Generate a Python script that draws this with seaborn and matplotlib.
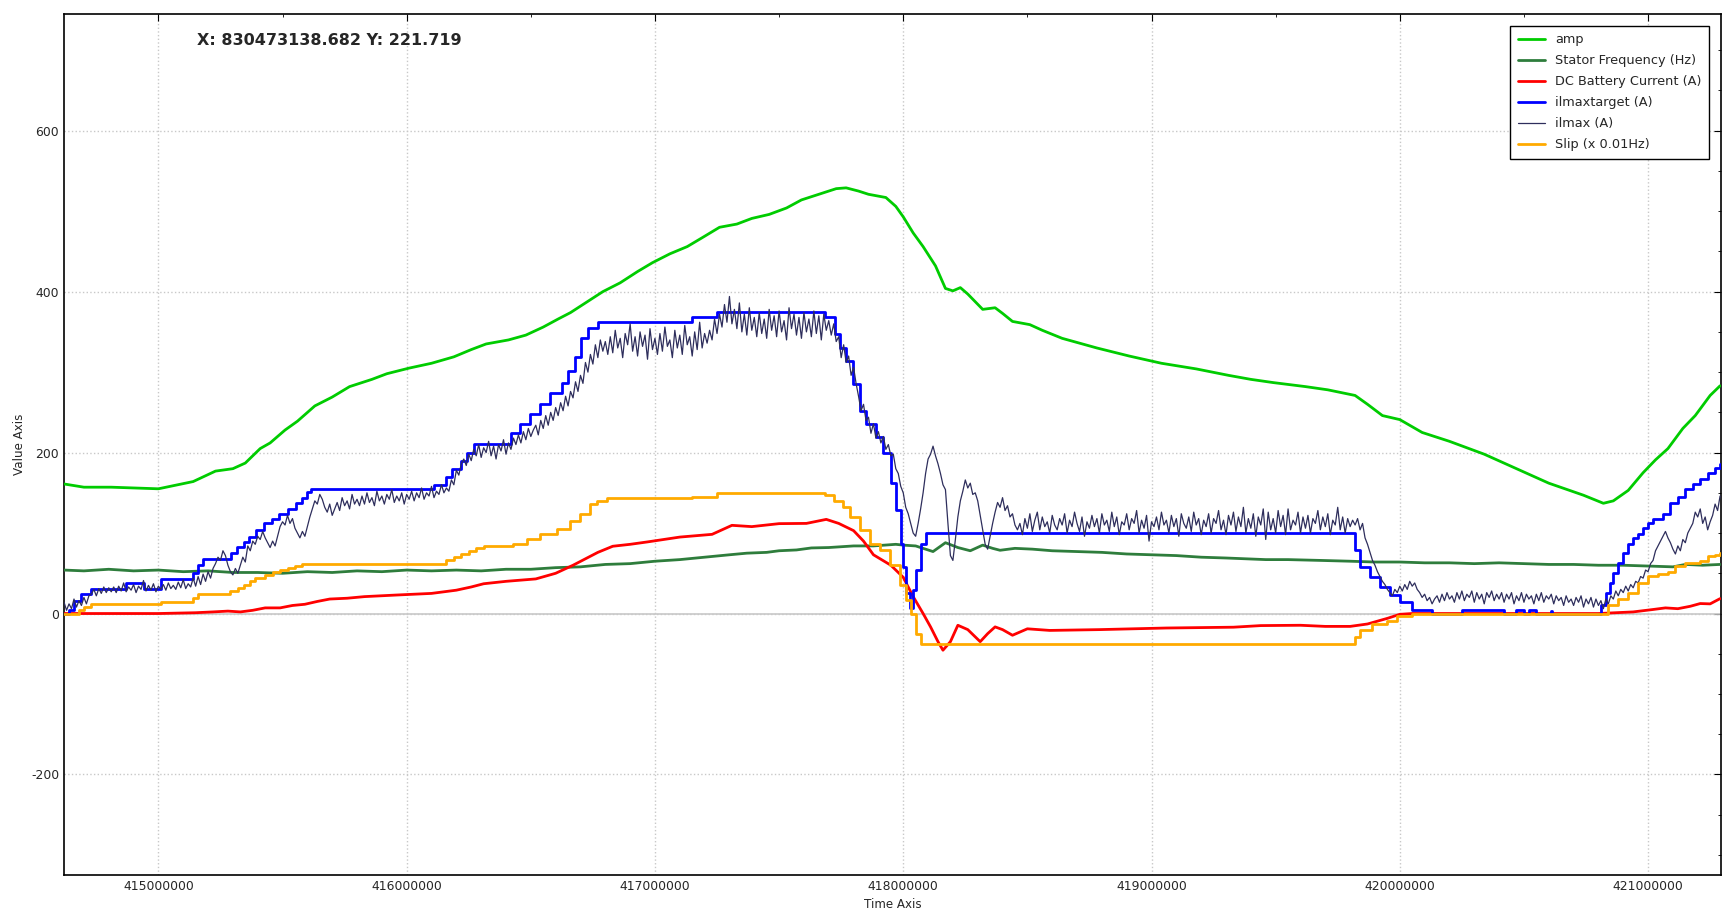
import numpy as np
import pandas as pd
import seaborn as sns
import matplotlib.pyplot as plt
from matplotlib.ticker import MultipleLocator, FormatStrFormatter

# time values below are in units of 1e6
amp_t = [414.62, 414.70, 414.81, 415.00, 415.14, 415.23, 415.30, 415.35, 415.41, 415.45,
         415.51, 415.56, 415.63, 415.70, 415.77, 415.86, 415.92, 416.01, 416.10, 416.19,
         416.26, 416.32, 416.41, 416.48, 416.55, 416.61, 416.66, 416.73, 416.79, 416.86,
         416.93, 416.99, 417.06, 417.13, 417.19, 417.26, 417.33, 417.39, 417.46, 417.53,
         417.59, 417.66, 417.73, 417.77, 417.82, 417.86, 417.93, 417.97, 418.00, 418.04,
         418.08, 418.13, 418.17, 418.20, 418.23, 418.26, 418.32, 418.37, 418.40, 418.44,
         418.51, 418.56, 418.64, 418.78, 418.91, 419.04, 419.18, 419.31, 419.40, 419.49,
         419.62, 419.71, 419.82, 419.87, 419.93, 420.00, 420.09, 420.20, 420.34, 420.47,
         420.60, 420.74, 420.82, 420.86, 420.92, 420.98, 421.03, 421.08, 421.14, 421.19,
         421.25, 421.29]
amp_v = [161, 157, 157, 155, 164, 177, 180, 187, 205, 212,
         228, 239, 258, 269, 282, 291, 298, 305, 311, 319,
         328, 335, 340, 346, 356, 366, 374, 388, 400, 411,
         425, 436, 447, 456, 467, 480, 484, 491, 496, 504,
         514, 521, 528, 529, 525, 521, 517, 506, 493, 473,
         456, 432, 404, 401, 405, 397, 378, 380, 373, 363,
         359, 352, 342, 330, 320, 311, 304, 296, 291, 287,
         282, 278, 271, 260, 246, 241, 225, 214, 198, 180,
         162, 147, 137, 140, 153, 175, 191, 205, 230, 246,
         271, 283]

stator_t = [414.62, 414.70, 414.80, 414.90, 415.00, 415.10, 415.20, 415.30, 415.40, 415.50,
            415.60, 415.70, 415.80, 415.90, 416.00, 416.10, 416.20, 416.30, 416.40, 416.50,
            416.60, 416.70, 416.80, 416.90, 417.00, 417.10, 417.20, 417.30, 417.37, 417.45,
            417.50, 417.57, 417.63, 417.70, 417.80, 417.88, 417.97, 418.00, 418.05, 418.09,
            418.12, 418.17, 418.22, 418.27, 418.32, 418.36, 418.39, 418.45, 418.52, 418.60,
            418.70, 418.80, 418.90, 419.00, 419.10, 419.20, 419.30, 419.46, 419.55, 419.68,
            419.80, 419.90, 420.00, 420.10, 420.20, 420.30, 420.40, 420.50, 420.60, 420.70,
            420.80, 420.90, 421.00, 421.10, 421.15, 421.22, 421.29]
stator_v = [54, 53, 55, 53, 54, 52, 53, 51, 51, 50,
            52, 51, 53, 52, 54, 53, 54, 53, 55, 55,
            57, 58, 61, 62, 65, 67, 70, 73, 75, 76,
            78, 79, 81.5, 82, 84, 84, 86, 85, 84, 80,
            77, 88, 82, 78, 85, 81, 78.6, 81, 80, 78,
            77, 76, 74, 73, 72, 70, 69, 67, 67, 66,
            65, 64, 64, 63, 63, 62, 63, 62, 61, 61,
            60, 60, 59, 58, 61, 60, 61]

dc_t = [414.62, 415.00, 415.15, 415.22, 415.28, 415.33, 415.38, 415.43, 415.49, 415.54,
        415.59, 415.64, 415.69, 415.76, 415.83, 415.96, 416.10, 416.20, 416.26, 416.31,
        416.40, 416.52, 416.60, 416.67, 416.72, 416.77, 416.83, 416.90, 416.97, 417.10,
        417.23, 417.27, 417.31, 417.39, 417.50, 417.61, 417.69, 417.74, 417.80, 417.84,
        417.88, 417.95, 418.00, 418.04, 418.08, 418.11, 418.14, 418.16, 418.19, 418.22,
        418.26, 418.31, 418.34, 418.37, 418.40, 418.44, 418.50, 418.59, 418.79, 419.06,
        419.33, 419.44, 419.60, 419.70, 419.80, 419.87, 419.95, 420.00, 420.05, 420.80,
        420.94, 421.02, 421.07, 421.12, 421.17, 421.21, 421.25, 421.29]
dc_v = [0, 0, 1, 2, 3, 2, 4, 7, 7, 10,
        11.5, 15, 18, 19, 21, 23, 25, 29, 33, 37,
        40, 43, 50, 60, 68, 76, 83.6, 86, 89, 95,
        98.4, 104, 109.6, 108, 111.7, 112, 117, 112, 103, 90,
        73, 60, 45, 21, 0, -16.6, -35, -45.6, -35, -14.6,
        -20, -35, -25, -16.6, -20, -27, -19, -21, -20, -18,
        -17, -15, -14.6, -16, -16, -13, -6, -1, 0, 0,
        2, 5, 7, 6, 9, 12.4, 12, 18.5]

target_t = [414.62, 414.64, 414.66, 414.69, 414.73, 414.87, 414.94, 415.01, 415.14, 415.16,
            415.18, 415.291, 415.318, 415.345, 415.365, 415.392, 415.426, 415.459, 415.486, 415.52,
            415.553, 415.58, 415.60, 415.613, 416.11, 416.157, 416.184, 416.217, 416.244, 416.27,
            416.42, 416.456, 416.497, 416.537, 416.577, 416.624, 416.65, 416.677, 416.704, 416.731,
            416.77, 417.15, 417.25, 417.684, 417.724, 417.744, 417.771, 417.798, 417.825, 417.852,
            417.892, 417.92, 417.95, 417.97, 417.99, 418.00, 418.01, 418.026, 418.04, 418.05,
            418.07, 418.09, 419.80, 419.82, 419.84, 419.88, 419.92, 419.96, 420.00, 420.05,
            420.13, 420.25, 420.42, 420.47, 420.50, 420.52, 420.55, 420.61, 420.615, 420.80,
            420.81, 420.83, 420.845, 420.86, 420.88, 420.90, 420.92, 420.94, 420.96, 420.98,
            421.00, 421.02, 421.06, 421.09, 421.12, 421.15, 421.18, 421.21, 421.24, 421.27,
            421.29]
target_v = [0, 4, 16, 24, 30, 38, 31, 43, 50, 60,
            68, 75, 83, 89, 95, 104, 112, 118, 124, 130,
            137, 144, 151, 155, 160, 170, 180, 190, 200, 211,
            224, 236, 248, 261, 274, 286, 302, 319, 343, 355,
            362, 369, 375, 369, 347, 330, 314, 285, 252, 236,
            219, 199, 162, 129, 87, 58, 25, 6.5, 29, 54,
            87, 100, 100, 79, 58, 46, 33, 22.5, 14, 4,
            0, 4.6, 0, 4, 0, 4, 0, 3, 0, 0,
            10, 25, 38, 50, 63, 75, 87, 94, 99, 106,
            112, 118, 124, 137, 145, 155, 161, 167, 175, 181,
            186]

slip_t = [414.62, 414.68, 414.70, 414.73, 415.01, 415.14, 415.16, 415.29, 415.32, 415.345,
          415.37, 415.39, 415.43, 415.46, 415.49, 415.52, 415.55, 415.58, 415.61, 416.16,
          416.19, 416.22, 416.25, 416.28, 416.31, 416.43, 416.483, 416.537, 416.604, 416.657,
          416.698, 416.738, 416.765, 416.805, 417.15, 417.25, 417.684, 417.72, 417.758, 417.785,
          417.825, 417.865, 417.905, 417.946, 417.986, 418.01, 418.03, 418.05, 418.07, 419.80,
          419.82, 419.84, 419.89, 419.95, 419.99, 420.05, 420.81, 420.84, 420.88, 420.92,
          420.96, 421.00, 421.04, 421.08, 421.11, 421.15, 421.21, 421.24, 421.27, 421.29]
slip_v = [0, 4, 8, 12, 14.5, 19, 24, 28, 32, 36,
          40, 44, 48, 51, 54, 57, 59, 61, 62, 66,
          70, 74, 78, 82, 84, 87, 92, 98.5, 105.5, 115,
          124, 136.5, 140, 143, 145, 150, 147, 140, 133, 120.5,
          104, 87, 79, 60, 36, 17, 0, -25, -38, -38,
          -29, -21, -13, -9, -3.5, 0, 0, 10, 18, 26,
          38, 47, 49, 51, 59, 63, 65, 71, 73, 75]

# ilmax sampled every 0.01e6 starting at 414.62e6 (one row = 0.2e6)
ilmax_start = 414.62
ilmax_step = 0.01
ilmax_v = [
    14, 4, 12, 6, 18, 8, 16, 10, 20, 12, 22, 24, 30, 22, 31, 25, 33, 26, 32, 27,
    33, 26, 34, 28, 38, 27, 33, 29, 36, 26, 34, 30, 41, 28, 35, 29, 37, 27, 34, 30,
    36, 29, 38, 31, 35, 30, 39, 32, 42, 31, 37, 33, 44, 34, 46, 36, 49, 40, 52, 44,
    56, 62, 70, 66, 78, 72, 60, 52, 48, 56, 50, 60, 70, 64, 84, 78, 90, 86, 96, 92,
    102, 94, 88, 82, 90, 84, 96, 108, 114, 110, 122, 112, 118, 106, 100, 94, 102, 96, 108, 120,
    130, 140, 136, 148, 142, 132, 126, 136, 122, 130, 138, 128, 144, 134, 140, 130, 148, 136, 142, 134,
    146, 136, 150, 138, 144, 134, 152, 140, 146, 136, 148, 142, 154, 138, 146, 140, 150, 136, 148, 142,
    152, 140, 150, 144, 156, 142, 150, 146, 158, 144, 152, 148, 160, 150, 156, 152, 166, 160, 178, 172,
    186, 192, 184, 198, 190, 204, 196, 210, 194, 206, 200, 214, 196, 208, 192, 210, 202, 216, 198, 212,
    204, 218, 210, 222, 212, 226, 216, 230, 220, 228, 234, 222, 240, 230, 246, 234, 250, 240, 256, 246,
    262, 252, 270, 258, 276, 268, 288, 276, 296, 286, 312, 300, 322, 310, 334, 318, 340, 326, 338, 322,
    344, 324, 352, 330, 342, 318, 348, 334, 360, 326, 344, 320, 350, 332, 346, 316, 354, 328, 342, 322,
    348, 326, 356, 332, 340, 318, 352, 330, 346, 322, 358, 334, 344, 320, 350, 328, 362, 330, 348, 336,
    352, 340, 366, 348, 372, 356, 384, 362, 394, 360, 378, 354, 386, 350, 372, 346, 380, 352, 368, 344,
    374, 348, 366, 342, 378, 352, 370, 344, 376, 350, 364, 340, 380, 354, 372, 346, 368, 342, 374, 350,
    366, 344, 376, 348, 370, 340, 372, 352, 364, 346, 360, 338, 344, 318, 334, 312, 320, 296, 306, 286,
    270, 252, 260, 240, 244, 224, 236, 218, 226, 212, 220, 204, 210, 196, 198, 180, 174, 158, 150, 132,
    124, 112, 100, 96, 112, 130, 150, 174, 192, 198, 208, 196, 186, 174, 160, 154, 112, 72, 66, 92,
    120, 140, 152, 166, 156, 162, 148, 150, 140, 122, 104, 86, 80, 96, 112, 126, 138, 132, 144, 128,
    134, 120, 124, 110, 104, 112, 98, 118, 106, 124, 102, 116, 126, 104, 120, 108, 114, 100, 122, 110,
    104, 118, 110, 124, 100, 116, 108, 126, 112, 102, 120, 96, 114, 106, 122, 108, 118, 100, 124, 110,
    116, 102, 126, 108, 120, 98, 114, 110, 124, 104, 118, 112, 128, 100, 116, 106, 122, 90, 114, 108,
    120, 104, 126, 110, 116, 100, 122, 108, 118, 96, 124, 112, 106, 120, 102, 126, 110, 118, 98, 116,
    108, 124, 100, 118, 112, 128, 104, 116, 98, 122, 110, 126, 102, 120, 108, 132, 100, 118, 106, 124,
    96, 120, 110, 130, 92, 126, 104, 118, 100, 128, 108, 122, 98, 130, 104, 116, 110, 126, 100, 120,
    106, 122, 100, 118, 112, 128, 104, 120, 108, 124, 98, 116, 110, 132, 104, 120, 100, 118, 108, 116,
    110, 118, 104, 112, 94, 86, 76, 66, 60, 52, 46, 40, 36, 30, 26, 22, 30, 26, 34, 28,
    36, 30, 40, 34, 38, 30, 26, 20, 24, 16, 20, 12, 18, 22, 14, 24, 16, 26, 18, 22,
    14, 26, 18, 28, 16, 24, 20, 28, 14, 26, 18, 24, 12, 26, 20, 28, 16, 24, 18, 26,
    14, 24, 18, 26, 12, 22, 16, 26, 14, 24, 18, 22, 12, 24, 16, 26, 14, 22, 18, 24,
    12, 22, 16, 20, 10, 22, 14, 18, 10, 20, 14, 22, 8, 18, 12, 20, 8, 18, 10, 16,
    6, 18, 12, 22, 18, 28, 22, 30, 26, 34, 28, 36, 32, 40, 38, 46, 44, 54, 52, 62,
    66, 78, 84, 90, 96, 102, 94, 88, 80, 74, 84, 78, 92, 88, 100, 106, 112, 126, 120, 130,
    112, 120, 104, 114, 122, 136, 128, 146,
]

x_ticks = [415000000, 416000000, 417000000, 418000000, 419000000, 420000000, 421000000]
y_ticks = [-200, 0, 200, 400, 600]
cursor_text = "X: 830473138.682 Y: 221.719"

M = 1e6
ilmax_t = ilmax_start + ilmax_step * np.arange(len(ilmax_v))

sns.set_style("white")
plt.rcParams["axes.unicode_minus"] = False
fig = plt.figure(figsize=(17.36, 9.18), dpi=100)
ax = fig.add_axes([0.0369, 0.0468, 0.9545, 0.9379])

ax.axhline(0, color="#c8c8c8", lw=1.2, zorder=1)

series = [
    ("amp", amp_t, amp_v, "#00cc00", 2.0, "default"),
    ("Stator Frequency (Hz)", stator_t, stator_v, "#2e7d3c", 2.0, "default"),
    ("DC Battery Current (A)", dc_t, dc_v, "#ff0000", 2.0, "default"),
    ("ilmaxtarget (A)", target_t, target_v, "#0000ff", 2.0, "steps-post"),
    ("ilmax (A)", list(ilmax_t), ilmax_v, "#2e2e5c", 0.9, "default"),
    ("Slip (x 0.01Hz)", slip_t, slip_v, "#ffaa00", 2.0, "steps-post"),
]
for name, t, v, col, lw, ds in series:
    df = pd.DataFrame({"t": np.array(t) * M, "v": v})
    sns.lineplot(data=df, x="t", y="v", ax=ax, color=col, lw=lw, label=name,
                 estimator=None, drawstyle=ds, zorder=3)

ax.set_xlim(414.62 * M, 421.294 * M)
ax.set_ylim(-325, 745)
ax.set_xticks(x_ticks)
ax.set_yticks(y_ticks)
ax.xaxis.set_major_formatter(FormatStrFormatter("%d"))
ax.xaxis.set_minor_locator(MultipleLocator(500000))
ax.yaxis.set_minor_locator(MultipleLocator(50))
ax.tick_params(which="both", direction="in", top=True, right=True, labelsize=8.9, color="black")
ax.tick_params(which="major", length=5)
ax.tick_params(which="minor", length=2.5)
ax.grid(True, which="major", color="#c8c8c8", linestyle=":", lw=1)
for s in ax.spines.values():
    s.set_color("black")
    s.set_linewidth(1.2)

ax.set_xlabel("Time Axis", fontsize=8.6)
ax.set_ylabel("Value Axis", fontsize=8.6)

ax.text(0.080, 0.969, cursor_text, transform=ax.transAxes, fontsize=11.5,
        fontweight="bold", va="center", ha="left")

leg = ax.legend(loc="upper right", fontsize=9.3, frameon=True, fancybox=False,
                edgecolor="black", framealpha=1, borderaxespad=0.9, borderpad=0.6,
                labelspacing=0.62, handlelength=2.1)
leg.get_frame().set_linewidth(1.0)

fig.savefig("out.png", dpi=100)
